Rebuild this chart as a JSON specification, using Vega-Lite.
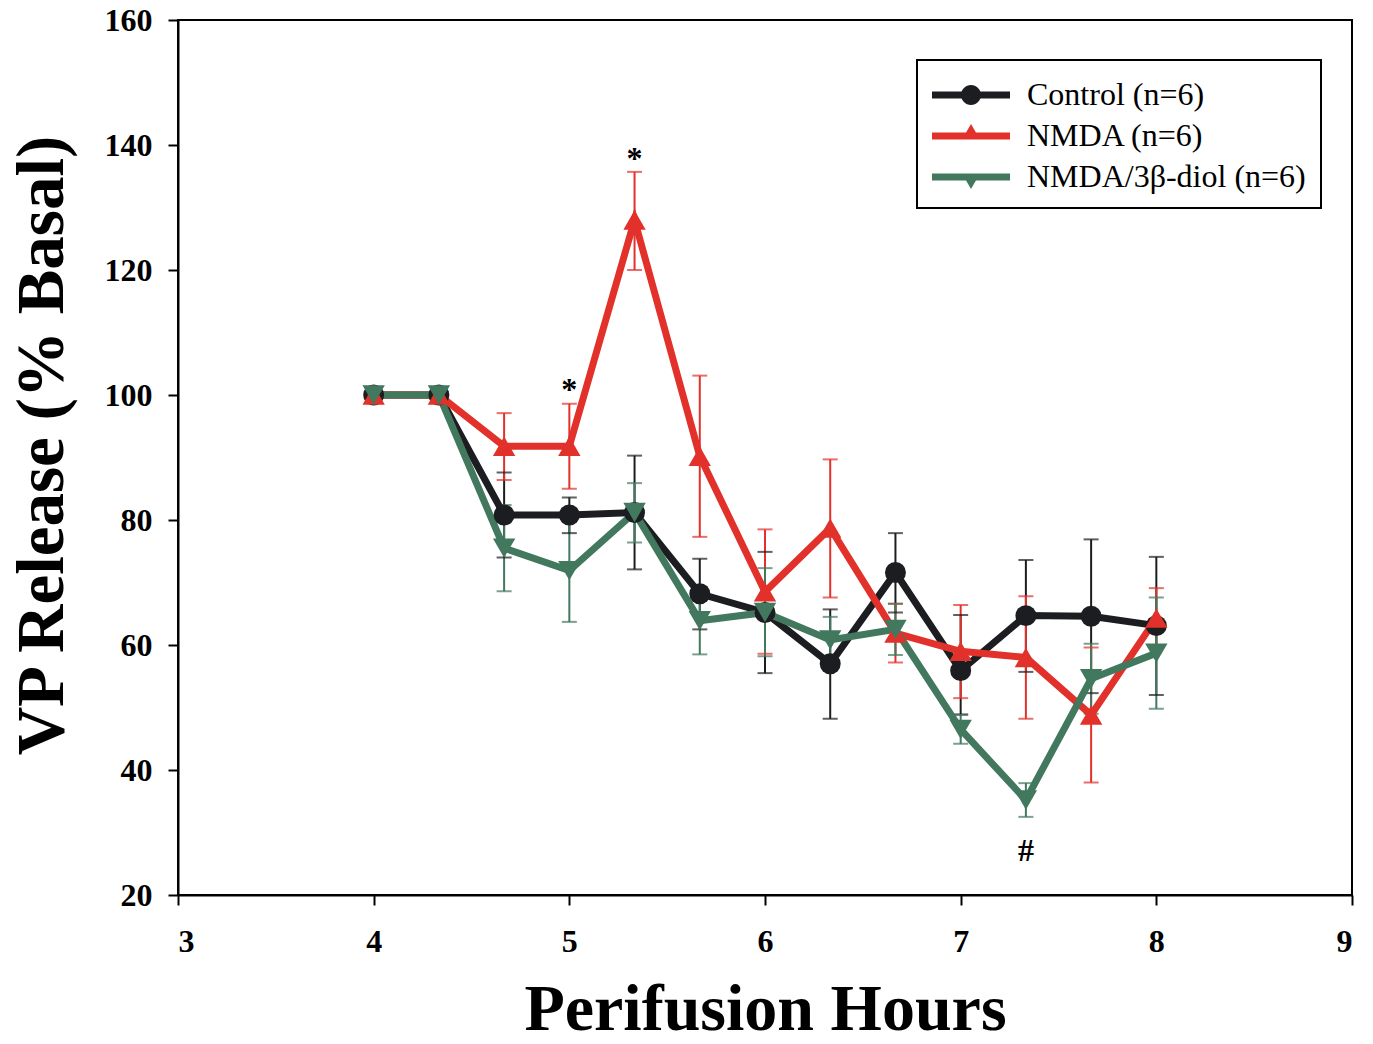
{
  "$schema": "https://vega.github.io/schema/vega-lite/v6.json",
  "width": 1174,
  "height": 875,
  "autosize": {"type": "none"},
  "padding": {"left": 178, "top": 20, "right": 21, "bottom": 149},
  "background": "white",
  "config": {
    "view": {"stroke": "black", "strokeWidth": 2},
    "axis": {
      "grid": false,
      "domainColor": "black",
      "domainWidth": 2,
      "tickColor": "black",
      "tickWidth": 2,
      "tickSize": 10,
      "labelFont": "Liberation Serif",
      "labelFontWeight": "bold",
      "labelFontSize": 32,
      "labelColor": "black",
      "titleFont": "Liberation Serif",
      "titleFontWeight": "bold",
      "titleColor": "black"
    }
  },
  "datasets": {
    "vp": [
      {"series": "Control (n=6)", "hours": 4.0, "value": 100},
      {"series": "Control (n=6)", "hours": 4.3333, "value": 100},
      {"series": "Control (n=6)", "hours": 4.6667, "value": 80.8, "lo": 74.0, "hi": 87.6},
      {"series": "Control (n=6)", "hours": 5.0, "value": 80.8, "lo": 77.9, "hi": 83.6},
      {"series": "Control (n=6)", "hours": 5.3333, "value": 81.2, "lo": 72.1, "hi": 90.3},
      {"series": "Control (n=6)", "hours": 5.6667, "value": 68.2, "lo": 62.5, "hi": 73.8},
      {"series": "Control (n=6)", "hours": 6.0, "value": 65.2, "lo": 55.5, "hi": 74.9},
      {"series": "Control (n=6)", "hours": 6.3333, "value": 57.0, "lo": 48.2, "hi": 65.7},
      {"series": "Control (n=6)", "hours": 6.6667, "value": 71.6, "lo": 65.2, "hi": 77.9},
      {"series": "Control (n=6)", "hours": 7.0, "value": 55.9, "lo": 48.9, "hi": 64.8},
      {"series": "Control (n=6)", "hours": 7.3333, "value": 64.7, "lo": 55.7, "hi": 73.6},
      {"series": "Control (n=6)", "hours": 7.6667, "value": 64.6, "lo": 52.3, "hi": 76.9},
      {"series": "Control (n=6)", "hours": 8.0, "value": 63.1, "lo": 52.0, "hi": 74.1},
      {"series": "NMDA (n=6)", "hours": 4.0, "value": 100},
      {"series": "NMDA (n=6)", "hours": 4.3333, "value": 100},
      {"series": "NMDA (n=6)", "hours": 4.6667, "value": 91.8, "lo": 86.4, "hi": 97.1},
      {"series": "NMDA (n=6)", "hours": 5.0, "value": 91.8, "lo": 85.0, "hi": 98.6},
      {"series": "NMDA (n=6)", "hours": 5.3333, "value": 128.0, "lo": 120.0, "hi": 135.7},
      {"series": "NMDA (n=6)", "hours": 5.6667, "value": 90.2, "lo": 77.3, "hi": 103.1},
      {"series": "NMDA (n=6)", "hours": 6.0, "value": 68.5, "lo": 58.6, "hi": 78.5},
      {"series": "NMDA (n=6)", "hours": 6.3333, "value": 78.7, "lo": 67.6, "hi": 89.7},
      {"series": "NMDA (n=6)", "hours": 6.6667, "value": 61.9, "lo": 57.2, "hi": 66.6},
      {"series": "NMDA (n=6)", "hours": 7.0, "value": 59.0, "lo": 51.5, "hi": 66.4},
      {"series": "NMDA (n=6)", "hours": 7.3333, "value": 58.0, "lo": 48.2, "hi": 67.8},
      {"series": "NMDA (n=6)", "hours": 7.6667, "value": 48.8, "lo": 38.0, "hi": 59.6},
      {"series": "NMDA (n=6)", "hours": 8.0, "value": 64.3, "lo": 59.5, "hi": 69.1},
      {"series": "NMDA/3β-diol (n=6)", "hours": 4.0, "value": 100},
      {"series": "NMDA/3β-diol (n=6)", "hours": 4.3333, "value": 100},
      {"series": "NMDA/3β-diol (n=6)", "hours": 4.6667, "value": 75.5, "lo": 68.6, "hi": 82.4},
      {"series": "NMDA/3β-diol (n=6)", "hours": 5.0, "value": 71.9, "lo": 63.7, "hi": 80.0},
      {"series": "NMDA/3β-diol (n=6)", "hours": 5.3333, "value": 81.2, "lo": 76.4, "hi": 85.9},
      {"series": "NMDA/3β-diol (n=6)", "hours": 5.6667, "value": 63.9, "lo": 58.5, "hi": 69.3},
      {"series": "NMDA/3β-diol (n=6)", "hours": 6.0, "value": 65.2, "lo": 58.2, "hi": 72.3},
      {"series": "NMDA/3β-diol (n=6)", "hours": 6.3333, "value": 60.8, "lo": 57.0, "hi": 64.5},
      {"series": "NMDA/3β-diol (n=6)", "hours": 6.6667, "value": 62.5, "lo": 58.4, "hi": 66.6},
      {"series": "NMDA/3β-diol (n=6)", "hours": 7.0, "value": 46.5, "lo": 44.2, "hi": 48.8},
      {"series": "NMDA/3β-diol (n=6)", "hours": 7.3333, "value": 35.2, "lo": 32.5, "hi": 37.9},
      {"series": "NMDA/3β-diol (n=6)", "hours": 7.6667, "value": 54.6, "lo": 49.0, "hi": 60.2},
      {"series": "NMDA/3β-diol (n=6)", "hours": 8.0, "value": 58.7, "lo": 49.8, "hi": 67.6}
    ],
    "notes": [
      {"hours": 5.0, "value": 100.8, "label": "*"},
      {"hours": 5.3333, "value": 137.8, "label": "*"},
      {"hours": 7.3333, "value": 27.0, "label": "#"}
    ]
  },
  "layer": [
    {
      "data": {"name": "vp"},
      "transform": [{"filter": "datum.lo != null"}],
      "mark": {"type": "rule", "strokeWidth": 2},
      "encoding": {
        "x": {"field": "hours", "type": "quantitative",
          "scale": {"domain": [3, 9], "nice": false, "zero": false},
          "axis": {"values": [3, 4, 5, 6, 7, 8, 9], "format": "d", "labelPadding": 21,
            "title": "Perifusion Hours", "titleFontSize": 66, "titlePadding": 20}},
        "y": {"field": "lo", "type": "quantitative",
          "scale": {"domain": [20, 160], "nice": false, "zero": false},
          "axis": {"values": [20, 40, 60, 80, 100, 120, 140, 160], "labelPadding": 16,
            "title": "VP Release (% Basal)", "titleFontSize": 67, "titlePadding": 28, "titleY": 425}},
        "y2": {"field": "hi"},
        "color": {"field": "series", "type": "nominal",
          "scale": {"domain": ["Control (n=6)", "NMDA (n=6)", "NMDA/3β-diol (n=6)"], "range": ["#1c1d21", "#e2312b", "#41785e"]},
          "legend": {
            "title": null,
            "orient": "none",
            "legendX": 739,
            "legendY": 40,
            "padding": 15,
            "labelFont": "Liberation Serif",
            "labelFontSize": 32,
            "labelColor": "black",
            "labelLimit": 400,
            "labelOffset": 55,
            "rowPadding": 5,
            "symbolSize": 1600,
            "symbolStrokeWidth": 0,
            "symbolOpacity": 1,
            "encode": {
              "legend": {
                "update": {
                  "stroke": {"value": "black"},
                  "strokeWidth": {"value": 2},
                  "fill": {"value": "white"}
                }
              },
              "symbols": {
                "update": {
                  "shape": {"signal": "datum.value == 'Control (n=6)' ? 'M-1,-0.175L2.9,-0.175L2.9,0.175L-1,0.175Z M0.45,0A0.5,0.5 0 1,1 1.45,0A0.5,0.5 0 1,1 0.45,0Z' : datum.value == 'NMDA (n=6)' ? 'M-1,-0.175L2.9,-0.175L2.9,0.175L-1,0.175Z M0.5,0.175L0.95,-0.6L1.4,0.175Z' : 'M-1,-0.175L2.9,-0.175L2.9,0.175L-1,0.175Z M0.5,-0.175L1.4,-0.175L0.95,0.6Z'"},
                  "fill": {"signal": "datum.value == 'Control (n=6)' ? '#1c1d21' : datum.value == 'NMDA (n=6)' ? '#e2312b' : '#41785e'"},
                  "fillOpacity": {"value": 1},
                  "opacity": {"value": 1},
                  "strokeWidth": {"value": 0}
                }
              }
            }
          }}
      }
    },
    {
      "data": {"name": "vp"},
      "transform": [{"filter": "datum.lo != null"}, {"fold": ["lo", "hi"], "as": ["end", "endValue"]}],
      "mark": {"type": "tick", "orient": "horizontal", "thickness": 2, "size": 15},
      "encoding": {
        "x": {"field": "hours", "type": "quantitative"},
        "y": {"field": "endValue", "type": "quantitative"},
        "color": {"field": "series", "type": "nominal"}
      }
    },
    {
      "data": {"name": "vp"},
      "mark": {"type": "line", "strokeWidth": 7, "strokeJoin": "miter"},
      "encoding": {
        "x": {"field": "hours", "type": "quantitative"},
        "y": {"field": "value", "type": "quantitative"},
        "color": {"field": "series", "type": "nominal"},
        "order": {"field": "hours"}
      }
    },
    {
      "data": {"name": "vp"},
      "transform": [{"filter": "datum.series == 'Control (n=6)'"}],
      "mark": {"type": "point", "shape": "circle", "filled": true, "opacity": 1, "size": 440},
      "encoding": {
        "x": {"field": "hours", "type": "quantitative"},
        "y": {"field": "value", "type": "quantitative"},
        "color": {"field": "series", "type": "nominal"}
      }
    },
    {
      "data": {"name": "vp"},
      "transform": [{"filter": "datum.series == 'NMDA (n=6)'"}],
      "mark": {"type": "point", "shape": "triangle-up", "filled": true, "opacity": 1, "size": 500},
      "encoding": {
        "x": {"field": "hours", "type": "quantitative"},
        "y": {"field": "value", "type": "quantitative"},
        "color": {"field": "series", "type": "nominal"}
      }
    },
    {
      "data": {"name": "vp"},
      "transform": [{"filter": "datum.series == 'NMDA/3β-diol (n=6)'"}],
      "mark": {"type": "point", "shape": "triangle-down", "filled": true, "opacity": 1, "size": 500},
      "encoding": {
        "x": {"field": "hours", "type": "quantitative"},
        "y": {"field": "value", "type": "quantitative"},
        "color": {"field": "series", "type": "nominal"}
      }
    },
    {
      "data": {"name": "notes"},
      "mark": {"type": "text", "font": "Liberation Serif", "fontWeight": "bold", "fontSize": 32, "color": "black", "baseline": "middle"},
      "encoding": {
        "x": {"field": "hours", "type": "quantitative"},
        "y": {"field": "value", "type": "quantitative"},
        "text": {"field": "label"}
      }
    }
  ]
}
